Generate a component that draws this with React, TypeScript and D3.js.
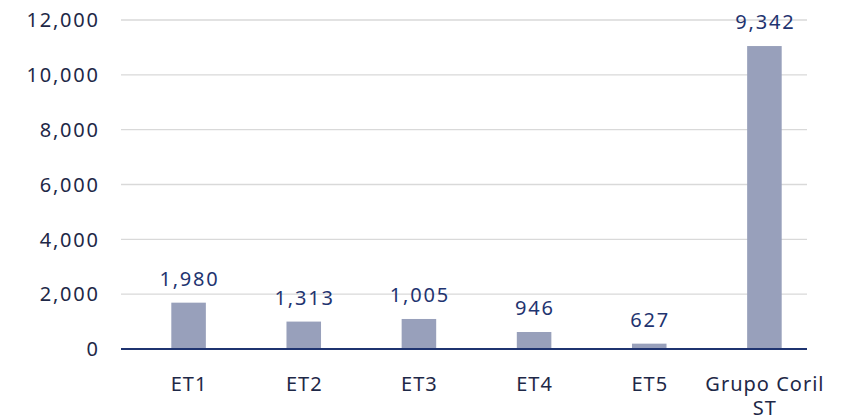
import React from "react";
import * as d3 from "d3";

const categories = ["ET1", "ET2", "ET3", "ET4", "ET5", "Grupo Coril ST"];
const barValues = [1690, 1000, 1095, 620, 195, 11050];
const labelValues = [1980, 1313, 1005, 946, 627, 9342];
const yTicks = [0, 2000, 4000, 6000, 8000, 10000, 12000];

const W = 843;
const H = 419;
const FONT = "'Noto Sans', 'DejaVu Sans', sans-serif";

export default function App() {
  const y = d3.scaleLinear().domain([0, 12000]).range([349, 20]);
  const x = d3.scaleBand<string>().domain(categories).range([131, 822]).paddingInner(0.7).paddingOuter(0.35);
  const fmt = d3.format(",");
  const gridX0 = 121;
  const gridX1 = 807;
  const fs = 20;
  const ls = 1.8;
  return (
    <svg width={W} height={H} style={{ position: "absolute", left: 0, top: 0 }} fontFamily={FONT}>
      <rect width={W} height={H} fill="#fff" />
      {yTicks.map((t) => (
        <g key={t}>
          {t !== 0 && (
            <line x1={gridX0} x2={gridX1} y1={y(t)} y2={y(t)} stroke="#d9d9d9" strokeWidth={1.3} />
          )}
          <text x={98 + ls} y={y(t)} dy="0.36em" textAnchor="end" fontSize={fs} letterSpacing={ls} fill="#1e2847">
            {fmt(t)}
          </text>
        </g>
      ))}
      {categories.map((c, i) => {
        const bx = x(c)!;
        const bw = x.bandwidth();
        const cx = bx + bw / 2;
        return (
          <g key={c}>
            <rect x={bx} y={y(barValues[i])} width={bw} height={y(0) - y(barValues[i])} fill="#98a0bb" />
            <text x={cx + ls / 2} y={y(barValues[i]) - 17} textAnchor="middle" fontSize={fs} letterSpacing={ls} fill="#1f3470">
              {fmt(labelValues[i])}
            </text>
          </g>
        );
      })}
      <line x1={gridX0} x2={gridX1} y1={y(0)} y2={y(0)} stroke="#1f3470" strokeWidth={2} />
      {categories.map((c) => {
        const cx = x(c)! + x.bandwidth() / 2;
        const words = c.split(" ");
        const lines = words.length > 2 ? [words.slice(0, 2).join(" "), words.slice(2).join(" ")] : [c];
        return (
          <text key={c} x={cx} y={391} textAnchor="middle" fontSize={fs} letterSpacing={1} fill="#1e2847">
            {lines.map((l, j) => (
              <tspan key={j} x={cx + 0.5} dy={j === 0 ? 0 : 24}>
                {l}
              </tspan>
            ))}
          </text>
        );
      })}
    </svg>
  );
}
